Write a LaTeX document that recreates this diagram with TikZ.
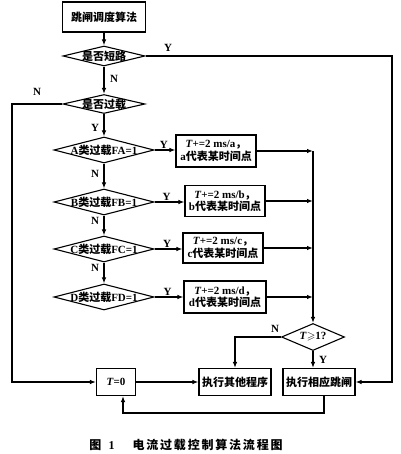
\documentclass[tikz,border=0pt]{standalone}
\usepackage{amssymb}
\usepackage{fontspec}
\setmainfont{Liberation Serif}
\newfontfamily\cjk{Noto Sans CJK SC}
\newfontfamily\cjkcap{Noto Sans CJK SC}[LetterSpace=15]
\newcommand\zh[1]{{\cjk #1}}
\usetikzlibrary{shapes.geometric,arrows.meta}
\begin{document}
\begin{tikzpicture}[x=1pt,y=-1pt, line width=1.1pt,
  font=\fontsize{11}{12.5}\selectfont\bfseries,
  box/.style={draw, rectangle, inner sep=1pt, align=center},
  dia/.style={draw, diamond, inner sep=0pt},
  arr/.style={-{Latex[length=6pt,width=4.5pt]}},
  lab/.style={inner sep=1pt}]
\useasboundingbox (0,0) rectangle (400,454);
% main column
\node[box, minimum width=83pt, minimum height=30pt] (start) at (104,17) {\zh{跳闸调度算法}};
\node[dia, minimum width=82pt, minimum height=20pt] (d1) at (104,56) {};
\node (d1t) at (d1) {\zh{是否短路}};
\node[dia, minimum width=82pt, minimum height=19pt] (d2) at (104,104) {};
\node (d2t) at (d2) {\zh{是否过载}};
\node[dia, minimum width=100pt, minimum height=26pt] (dA) at (104,150) {};
\node (dAt) at (dA) {A\zh{类过载}FA=1};
\node[dia, minimum width=100pt, minimum height=26pt] (dB) at (104,202) {};
\node (dBt) at (dB) {B\zh{类过载}FB=1};
\node[dia, minimum width=100pt, minimum height=26pt] (dC) at (104,249) {};
\node (dCt) at (dC) {C\zh{类过载}FC=1};
\node[dia, minimum width=100pt, minimum height=26pt] (dD) at (104,297) {};
\node (dDt) at (dD) {D\zh{类过载}FD=1};
% right boxes
\node[box, minimum width=80pt, minimum height=32pt] (a) at (216,151) {\textit{T}+=2 ms/a\zh{，}\\a\zh{代表某时间点}};
\node[box, minimum width=80pt, minimum height=31pt] (b) at (225,201) {\textit{T}+=2 ms/b\zh{，}\\b\zh{代表某时间点}};
\node[box, minimum width=80pt, minimum height=30pt] (c) at (223,248) {\textit{T}+=2 ms/c\zh{，}\\c\zh{代表某时间点}};
\node[box, minimum width=82pt, minimum height=32pt] (d) at (225,297) {\textit{T}+=2 ms/d\zh{，}\\d\zh{代表某时间点}};
% decision T>=1
\node[dia, minimum width=63pt, minimum height=27pt] (dT) at (313,337) {};
\node (dTt) at (dT) {\textit{T}$\geqslant$1?};
% bottom boxes
\node[box, minimum width=39pt, minimum height=27pt] (T0) at (116,382) {\textit{T}=0};
\node[box, minimum width=72pt, minimum height=27pt] (o) at (235,382) {\zh{执行其他程序}};
\node[box, minimum width=72pt, minimum height=27pt] (r) at (319,382) {\zh{执行相应跳闸}};
% connectors main column
\draw[arr] (start.south) -- (d1.north);
\draw[arr] (d1.south) -- (d2.north);
\draw[arr] (d2.south) -- (dA.north);
\draw[arr] (dA.south) -- (dB.north);
\draw[arr] (dB.south) -- (dC.north);
\draw[arr] (dC.south) -- (dD.north);
\node[lab] (n1) at (114,79) {N};
\node[lab] (y2) at (95,128) {Y};
\node[lab] (nA) at (95,174) {N};
\node[lab] (nB) at (95,221) {N};
\node[lab] (nC) at (95,268) {N};
% Y branches
\draw[arr] (dA.east) -- node[lab, above, pos=0.45] (yA) {Y} (dA.east -| a.west);
\draw[arr] (dB.east) -- node[lab, above, pos=0.4] (yB) {Y} (dB.east -| b.west);
\draw[arr] (dC.east) -- node[lab, above, pos=0.45] (yC) {Y} (dC.east -| c.west);
\draw[arr] (dD.east) -- node[lab, above, pos=0.45] (yD) {Y} (dD.east -| d.west);
% collector line
\draw[arr] (a.east) -- (a.east -| dT.north);
\draw[arr] (b.east) -- (b.east -| dT.north);
\draw[arr] (c.east) -- (c.east -| dT.north);
\draw[arr] (d.east) -- (d.east -| dT.north);
\draw[arr] (a.east -| dT.north) -- (dT.north);
% T>=1 outputs
\draw[arr] (dT.west) -| (o.north);
\node[lab] (nT) at (275,329) {N};
\draw[arr] (dT.south) -- (dT.south |- r.north);
\node[lab] (yT) at (323,360) {Y};
\draw[arr] (T0.east) -- (o.west);
\coordinate (lb) at (123,413);
\draw[arr] ([xshift=5pt]r.south) |- (lb) -- ([xshift=7pt]T0.south);
% loops
\coordinate (L) at (12,240);
\draw[arr] (d2.west) -| (L) |- (T0.west);
\node[lab] (n2) at (37,92) {N};
\coordinate (R) at (392,200);
\draw[arr] (d1.east) -| (R) |- (r.east);
\node[lab] (y1) at (168,48) {Y};
% caption
\node[font=\fontsize{12}{14}\selectfont\bfseries] (cap) at (186,445) {\zh{图}\hspace{0.6em}1\hspace{1.5em}{\cjkcap 电流过载控制算法流程图}};
\end{tikzpicture}
\end{document}
